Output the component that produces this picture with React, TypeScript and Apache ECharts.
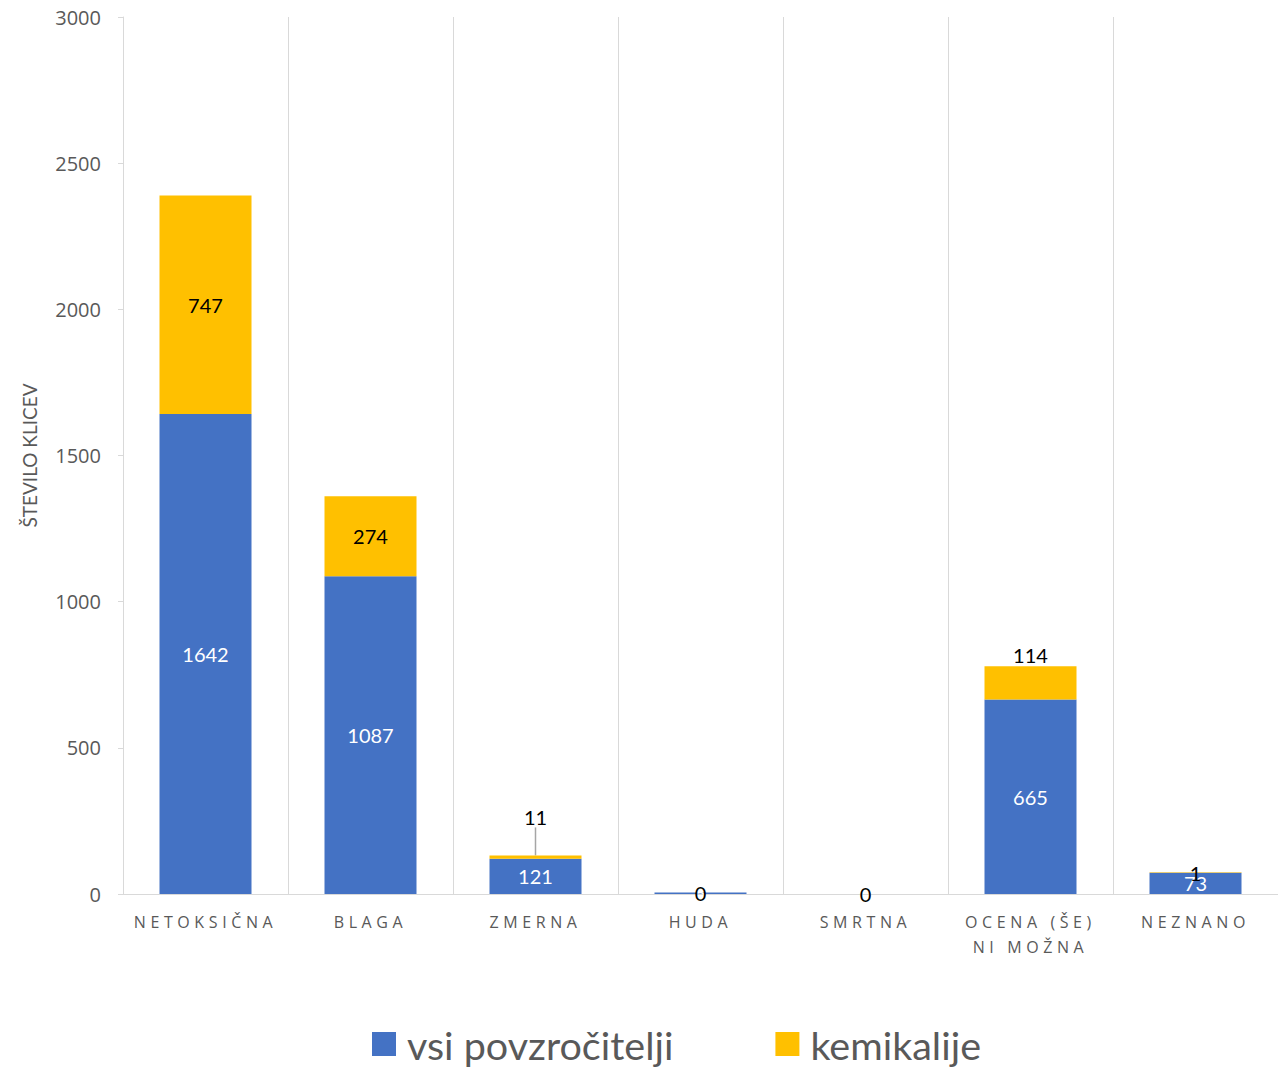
import React, { useEffect, useRef } from "react";
import * as echarts from "echarts";

const categories = ["NETOKSIČNA", "BLAGA", "ZMERNA", "HUDA", "SMRTNA", "OCENA (ŠE) NI MOŽNA", "NEZNANO"];
const allAgents = [1642, 1087, 121, 5, 0, 665, 73];
const chemicals = [747, 274, 11, 0, 0, 114, 1];
const chemLabelPos = ["inside", "inside", "top", "inside", "inside", "top", "inside"];
const yTicks = { min: 0, max: 3000, interval: 500 };
const seriesNames = ["vsi povzročitelji", "kemikalije"];
const yAxisTitle = "ŠTEVILO KLICEV";

const wrapLabel = (s: string) => (s === "OCENA (ŠE) NI MOŽNA" ? "OCENA (ŠE)\nNI MOŽNA" : s);
const xLabelLines = new Set<string>();
categories.forEach((c) => wrapLabel(c).split("\n").forEach((l) => xLabelLines.add(l)));

export default function App() {
  const ref = useRef<HTMLDivElement>(null);
  useEffect(() => {
    if (!ref.current) return;
    const chart = echarts.init(ref.current, undefined, { renderer: "svg" });
    const grey = "#595959";
    chart.setOption({
      animation: false,
      backgroundColor: "#ffffff",
      grid: { left: 123, right: -3, top: 17, bottom: 174, containLabel: false },
      legend: {
        top: 1019,
        left: 367,
        padding: 5,
        itemWidth: 24,
        itemHeight: 24,
        itemGap: 102,
        icon: "rect",
        textStyle: { color: grey, fontSize: 39.5, lineHeight: 40, fontFamily: "Lato", padding: [0, 0, 0, 6] },
        data: seriesNames,
      },
      xAxis: {
        type: "category",
        data: categories,
        axisLine: { show: true, lineStyle: { color: "#d9d9d9", width: 1 } },
        axisTick: { show: false },
        splitLine: { show: true, lineStyle: { color: "#d9d9d9", width: 1 } },
        axisLabel: {
          color: grey,
          fontSize: 16,
          fontFamily: "Open Sans",
          margin: 15,
          lineHeight: 25,
          interval: 0,
          formatter: (v: string) => wrapLabel(v),
        },
      },
      yAxis: {
        type: "value",
        min: yTicks.min,
        max: yTicks.max,
        interval: yTicks.interval,
        name: yAxisTitle,
        nameLocation: "middle",
        nameRotate: 90,
        nameGap: 84,
        nameTextStyle: { color: grey, fontSize: 19, fontFamily: "Lato" },
        axisLine: { show: true, lineStyle: { color: "#d9d9d9" } },
        axisTick: { show: true, length: 5, lineStyle: { color: "#d9d9d9" } },
        splitLine: { show: false },
        axisLabel: {
          color: grey,
          fontSize: 20,
          fontFamily: "Open Sans",
          margin: 22,
          formatter: (v: number) => String(v),
        },
      },
      series: [
        {
          name: seriesNames[0],
          type: "bar",
          stack: "total",
          barWidth: 92,
          itemStyle: { color: "#4472C4" },
          label: { show: true, position: "inside", color: "#ffffff", fontSize: 20, fontFamily: "Lato" },
          data: allAgents,
        },
        {
          name: seriesNames[1],
          type: "bar",
          stack: "total",
          barWidth: 92,
          itemStyle: { color: "#FFC000" },
          label: { show: true, color: "#000000", fontSize: 20, fontFamily: "Lato" },
          labelLine: { show: true, lineStyle: { color: "#a6a6a6", width: 1.5 } },
          labelLayout: (p: any) => (p.dataIndex === 2 ? { dy: -24 } : {}),
          data: chemicals.map((v, i) => ({
            value: v,
            label: { position: chemLabelPos[i], distance: i === 5 ? 1 : 4 },
            labelLine: { show: i === 2 },
          })),
        },
      ],
    });
    const applySpacing = () => {
      ref.current?.querySelectorAll("text").forEach((t) => {
        const s = (t.textContent || "").trim();
        if (xLabelLines.has(s)) (t as SVGTextElement).style.letterSpacing = "4.6px";
      });
    };
    applySpacing();
    chart.on("finished", applySpacing);
    return () => chart.dispose();
  }, []);
  return (
    <div
      ref={ref}
      style={{ position: "fixed", left: 0, top: 0, width: 1278, height: 1068, background: "#fff" }}
    />
  );
}
